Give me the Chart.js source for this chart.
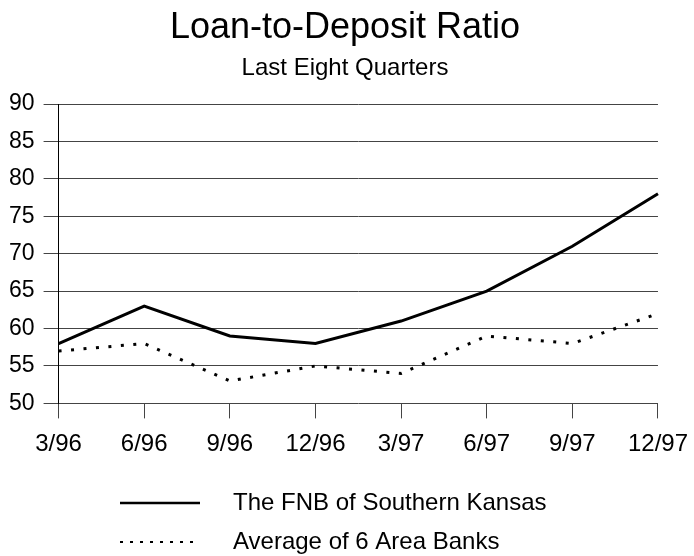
<!DOCTYPE html>
<html>
<head>
<meta charset="utf-8">
<script src="https://cdn.jsdelivr.net/npm/chart.js@4.4.1/dist/chart.umd.min.js"></script>
<style>
  html, body { margin: 0; padding: 0; background: #fff; }
  #wrap { width: 694px; height: 556px; position: relative; }
</style>
</head>
<body>
<div id="wrap"><canvas id="ratio-chart"></canvas></div>
<script>
// --- DATA ---
const quarters = ['3/96', '6/96', '9/96', '12/96', '3/97', '6/97', '9/97', '12/97'];
const fnbRatio = [58, 63, 59, 58, 61, 65, 71, 78];
const areaBanksRatio = [57, 58, 53, 55, 54, 59, 58, 62];
const seriesNames = ['The FNB of Southern Kansas', 'Average of 6 Area Banks'];
const yMin = 50;
const yMax = 90;
const yStep = 5;

const FONT = "'Liberation Sans', Arial, sans-serif";

// Legend drawn under the axis: a short line sample and the series name, one per row
const stackedLegend = {
    id: 'stackedLegend',
    afterDraw(chart) {
        const ctx = chart.ctx;
        const x0 = 120, x1 = 200, textX = 233;
        const rows = [503, 542];
        ctx.save();
        chart.data.datasets.forEach((ds, i) => {
            const y = rows[i];
            const dotted = ds.borderDash && ds.borderDash.length;
            ctx.beginPath();
            ctx.strokeStyle = '#000';
            ctx.lineWidth = dotted ? 2 : 2.5;
            ctx.setLineDash(dotted ? [3, 7] : []);
            ctx.moveTo(x0, y);
            ctx.lineTo(x1, y);
            ctx.stroke();
            ctx.setLineDash([]);
            ctx.fillStyle = '#000';
            ctx.font = '24px ' + FONT;
            ctx.textBaseline = 'middle';
            ctx.textAlign = 'left';
            ctx.fillText(ds.label, textX, y);
        });
        ctx.restore();
    }
};

const ctx = document.getElementById('ratio-chart').getContext('2d');
new Chart(ctx, {
    type: 'line',
    data: {
        labels: quarters,
        datasets: [
            {
                label: seriesNames[0],
                data: fnbRatio,
                borderColor: '#000',
                borderWidth: 3,
                pointRadius: 0,
                tension: 0,
                fill: false
            },
            {
                label: seriesNames[1],
                data: areaBanksRatio,
                borderColor: '#000',
                borderWidth: 3,
                borderDash: [3, 9.5],
                borderCapStyle: 'butt',
                pointRadius: 0,
                tension: 0,
                fill: false
            }
        ]
    },
    options: {
        responsive: true,
        maintainAspectRatio: false,
        animation: false,
        layout: { padding: { left: 0, right: 4, top: 0, bottom: 86 } },
        plugins: {
            legend: { display: false },
            tooltip: { enabled: false },
            title: {
                display: true,
                text: 'Loan-to-Deposit Ratio',
                color: '#000',
                font: { family: FONT, size: 36, weight: 'normal' },
                padding: { top: 6, bottom: 0 }
            },
            subtitle: {
                display: true,
                text: 'Last Eight Quarters',
                color: '#000',
                font: { family: FONT, size: 24, weight: 'normal' },
                padding: { top: 5, bottom: 21 }
            }
        },
        scales: {
            x: {
                offset: false,
                grid: { drawOnChartArea: false, drawTicks: true, tickLength: 15, color: '#444' },
                border: { display: false },
                ticks: {
                    color: '#000',
                    font: { family: FONT, size: 24, lineHeight: 1.65 },
                    padding: 6,
                    maxRotation: 0,
                    autoSkip: false
                }
            },
            y: {
                min: yMin,
                max: yMax,
                grid: { color: '#444', lineWidth: 1, tickLength: 15 },
                border: { display: true, color: '#000', width: 1 },
                ticks: {
                    stepSize: yStep,
                    color: '#000',
                    font: { family: FONT, size: 23 },
                    padding: 9
                }
            }
        }
    },
    plugins: [stackedLegend]
});
</script>
</body>
</html>
